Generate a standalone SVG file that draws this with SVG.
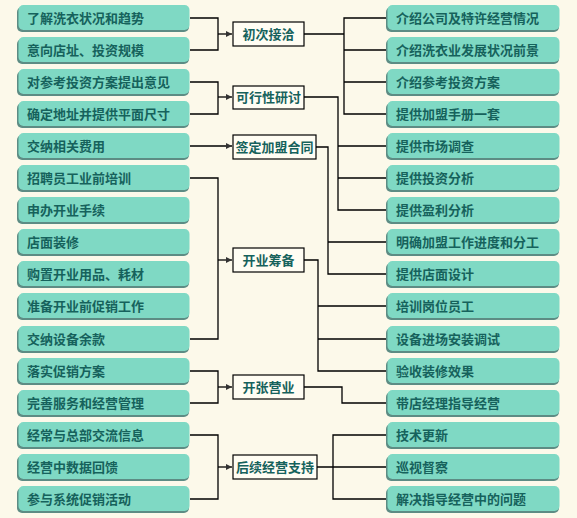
<svg xmlns="http://www.w3.org/2000/svg" width="577" height="518" viewBox="0 0 577 518">
<defs>
<style>
.sh{fill:#5d8c84}
.bx{fill:#7fd9c4}
.t{font-family:"Noto Sans CJK SC","Noto Sans",sans-serif;font-size:13px;font-weight:bold;fill:#16625c}
.mb{fill:#fffdf3;stroke:#000;stroke-width:1.2}
.mt{font-family:"Noto Sans CJK SC","Noto Sans",sans-serif;font-size:13px;font-weight:bold;fill:#16625c;text-anchor:middle}
.c{fill:none;stroke:#000;stroke-width:1.3}
</style>
<marker id="ar" markerUnits="userSpaceOnUse" markerWidth="7" markerHeight="7" refX="6" refY="3" orient="auto"><path d="M0,0 L6,3 L0,6 z" fill="#333"/></marker>
<g id="lb"><rect class="sh" x="17" y="2" width="172" height="25" rx="5"/><rect class="bx" x="18.5" y="0" width="171" height="25" rx="5"/></g>
<g id="rb"><rect class="sh" x="386" y="2" width="173" height="25" rx="5"/><rect class="bx" x="387.5" y="0" width="172" height="25" rx="5"/></g>
</defs>
<rect width="577" height="518" fill="#fcf9ea"/>

<g id="connectors">
<path class="c" d="M190 18 H218 V50 H190"/><path class="c" d="M218 34 H232" marker-end="url(#ar)"/>
<path class="c" d="M190 82 H218 V114 H190"/><path class="c" d="M218 97 H232" marker-end="url(#ar)"/>
<path class="c" d="M190 146 H232" marker-end="url(#ar)"/>
<path class="c" d="M190 178 H218 V339 H190"/><path class="c" d="M218 260 H232" marker-end="url(#ar)"/>
<path class="c" d="M190 371 H218 V403 H190"/><path class="c" d="M218 387 H232" marker-end="url(#ar)"/>
<path class="c" d="M190 435 H218 V499 H190"/><path class="c" d="M218 467 H232" marker-end="url(#ar)"/>

<path class="c" d="M304 34 H344"/><path class="c" d="M387 18 H344 V114 H387 M344 50 H387 M344 82 H387"/>
<path class="c" d="M304 97 H338 V210 H387 M338 146 H387 M338 178 H387"/>
<path class="c" d="M316 147 H328 V274 H387 M328 242 H387"/>
<path class="c" d="M304 260 H318 V371 H387 M318 306 H387 M318 339 H387"/>
<path class="c" d="M304 387 H342 V403 H387"/>
<path class="c" d="M317 467 H387 M387 435 H333 V499 H387"/>
</g>

<g id="l0"><use href="#lb" y="5"/><text class="t" x="27" y="23">了解洗衣状况和趋势</text></g>
<g id="l1"><use href="#lb" y="37"/><text class="t" x="27" y="55">意向店址、投资规模</text></g>
<g id="l2"><use href="#lb" y="69"/><text class="t" x="27" y="87">对参考投资方案提出意见</text></g>
<g id="l3"><use href="#lb" y="101"/><text class="t" x="27" y="119">确定地址并提供平面尺寸</text></g>
<g id="l4"><use href="#lb" y="133"/><text class="t" x="27" y="151">交纳相关费用</text></g>
<g id="l5"><use href="#lb" y="165"/><text class="t" x="27" y="183">招聘员工业前培训</text></g>
<g id="l6"><use href="#lb" y="197"/><text class="t" x="27" y="215">申办开业手续</text></g>
<g id="l7"><use href="#lb" y="229"/><text class="t" x="27" y="247">店面装修</text></g>
<g id="l8"><use href="#lb" y="261"/><text class="t" x="27" y="279">购置开业用品、耗材</text></g>
<g id="l9"><use href="#lb" y="293"/><text class="t" x="27" y="311">准备开业前促销工作</text></g>
<g id="l10"><use href="#lb" y="326"/><text class="t" x="27" y="344">交纳设备余款</text></g>
<g id="l11"><use href="#lb" y="358"/><text class="t" x="27" y="376">落实促销方案</text></g>
<g id="l12"><use href="#lb" y="390"/><text class="t" x="27" y="408">完善服务和经营管理</text></g>
<g id="l13"><use href="#lb" y="422"/><text class="t" x="27" y="440">经常与总部交流信息</text></g>
<g id="l14"><use href="#lb" y="454"/><text class="t" x="27" y="472">经营中数据回馈</text></g>
<g id="l15"><use href="#lb" y="486"/><text class="t" x="27" y="504">参与系统促销活动</text></g>

<g id="m0"><rect class="mb" x="233" y="22" width="71" height="24"/><text class="mt" x="268.5" y="39">初次接洽</text></g>
<g id="m1"><rect class="mb" x="233" y="86" width="71" height="23"/><text class="mt" x="268.5" y="102">可行性研讨</text></g>
<g id="m2"><rect class="mb" x="233" y="135" width="83" height="24"/><text class="mt" x="274.5" y="152">签定加盟合同</text></g>
<g id="m3"><rect class="mb" x="233" y="248" width="71" height="24"/><text class="mt" x="268.5" y="265">开业筹备</text></g>
<g id="m4"><rect class="mb" x="233" y="375" width="71" height="24"/><text class="mt" x="268.5" y="392">开张营业</text></g>
<g id="m5"><rect class="mb" x="233" y="455" width="84" height="24"/><text class="mt" x="275" y="472">后续经营支持</text></g>

<g id="r0"><use href="#rb" y="5"/><text class="t" x="396" y="23">介绍公司及特许经营情况</text></g>
<g id="r1"><use href="#rb" y="37"/><text class="t" x="396" y="55">介绍洗衣业发展状况前景</text></g>
<g id="r2"><use href="#rb" y="69"/><text class="t" x="396" y="87">介绍参考投资方案</text></g>
<g id="r3"><use href="#rb" y="101"/><text class="t" x="396" y="119">提供加盟手册一套</text></g>
<g id="r4"><use href="#rb" y="133"/><text class="t" x="396" y="151">提供市场调查</text></g>
<g id="r5"><use href="#rb" y="165"/><text class="t" x="396" y="183">提供投资分析</text></g>
<g id="r6"><use href="#rb" y="197"/><text class="t" x="396" y="215">提供盈利分析</text></g>
<g id="r7"><use href="#rb" y="229"/><text class="t" x="396" y="247">明确加盟工作进度和分工</text></g>
<g id="r8"><use href="#rb" y="261"/><text class="t" x="396" y="279">提供店面设计</text></g>
<g id="r9"><use href="#rb" y="293"/><text class="t" x="396" y="311">培训岗位员工</text></g>
<g id="r10"><use href="#rb" y="326"/><text class="t" x="396" y="344">设备进场安装调试</text></g>
<g id="r11"><use href="#rb" y="358"/><text class="t" x="396" y="376">验收装修效果</text></g>
<g id="r12"><use href="#rb" y="390"/><text class="t" x="396" y="408">带店经理指导经营</text></g>
<g id="r13"><use href="#rb" y="422"/><text class="t" x="396" y="440">技术更新</text></g>
<g id="r14"><use href="#rb" y="454"/><text class="t" x="396" y="472">巡视督察</text></g>
<g id="r15"><use href="#rb" y="486"/><text class="t" x="396" y="504">解决指导经营中的问题</text></g>
</svg>
